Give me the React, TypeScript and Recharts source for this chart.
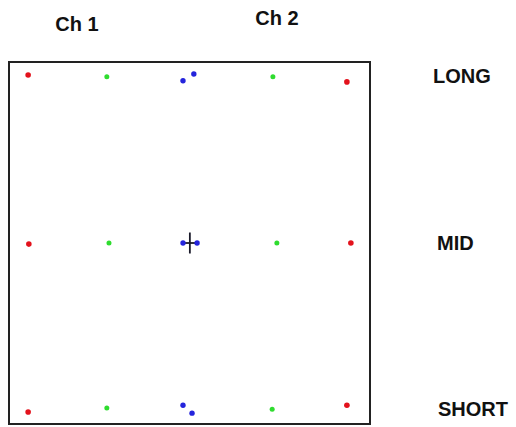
import React from 'react';
import { ScatterChart, Scatter, XAxis, YAxis, ReferenceArea, ErrorBar } from 'recharts';

const redPoints = [
  { x: 5.3, y: 96.4 }, { x: 93.6, y: 94.5 },
  { x: 5.5, y: 49.7 }, { x: 94.7, y: 50.0 },
  { x: 5.3, y: 3.3 }, { x: 93.6, y: 5.2 },
];
const greenPoints = [
  { x: 27.1, y: 95.9 }, { x: 73.1, y: 95.9 },
  { x: 27.7, y: 50.0 }, { x: 74.2, y: 50.0 },
  { x: 27.1, y: 4.4 }, { x: 72.9, y: 4.1 },
];
const bluePoints = [
  { x: 48.2, y: 94.8 }, { x: 51.2, y: 96.7 },
  { x: 48.2, y: 50.0 }, { x: 52.1, y: 50.0 },
  { x: 48.2, y: 5.2 }, { x: 50.7, y: 3.0 },
];
const crossPoint = [{ x: 50.1, y: 50.0, ex: 2.0, ey: 2.9 }];

const channelLabels = ['Ch 1', 'Ch 2'];
const channelLabelPos = [{ left: 77, top: 24 }, { left: 277, top: 18 }];
const rowLabels = ['LONG', 'MID', 'SHORT'];
const rowLabelPos = [{ left: 433, top: 76 }, { left: 437, top: 243 }, { left: 438, top: 409 }];

const labelStyle: React.CSSProperties = {
  position: 'absolute',
  fontFamily: '"Liberation Sans", Arial, sans-serif',
  fontWeight: 'bold',
  fontSize: 20,
  lineHeight: 1,
  color: '#111',
  whiteSpace: 'nowrap',
};

export default function App() {
  return (
    <div style={{ position: 'absolute', left: 0, top: 0, width: 516, height: 427, background: '#fff' }}>
      <ScatterChart width={516} height={427} margin={{ left: 9, top: 62, right: 146, bottom: 3 }}>
        <XAxis type="number" dataKey="x" domain={[0, 100]} hide />
        <YAxis type="number" dataKey="y" domain={[0, 100]} hide />
        <ReferenceArea x1={0} x2={100} y1={0} y2={100} fill="none" stroke="#222" strokeWidth={2} ifOverflow="visible" />
        <Scatter data={crossPoint} fill="none" shape={() => null} isAnimationActive={false}>
          <ErrorBar dataKey="ex" direction="x" width={0} stroke="#1a1a2a" strokeWidth={1.8} />
          <ErrorBar dataKey="ey" direction="y" width={0} stroke="#1a1a2a" strokeWidth={1.8} />
        </Scatter>
        <Scatter data={redPoints} fill="#e3121c" isAnimationActive={false}
          shape={(p: any) => <circle cx={p.cx} cy={p.cy} r={2.8} fill="#e3121c" />} />
        <Scatter data={greenPoints} fill="#2fdc2f" isAnimationActive={false}
          shape={(p: any) => <circle cx={p.cx} cy={p.cy} r={2.5} fill="#2fdc2f" />} />
        <Scatter data={bluePoints} fill="#2424dc" isAnimationActive={false}
          shape={(p: any) => <circle cx={p.cx} cy={p.cy} r={2.7} fill="#2424dc" />} />
      </ScatterChart>
      {channelLabels.map((t, i) => (
        <span key={t} style={{ ...labelStyle, left: channelLabelPos[i].left, top: channelLabelPos[i].top, transform: 'translate(-50%, -50%)' }}>{t}</span>
      ))}
      {rowLabels.map((t, i) => (
        <span key={t} style={{ ...labelStyle, left: rowLabelPos[i].left, top: rowLabelPos[i].top, transform: 'translate(0, -50%)' }}>{t}</span>
      ))}
    </div>
  );
}
